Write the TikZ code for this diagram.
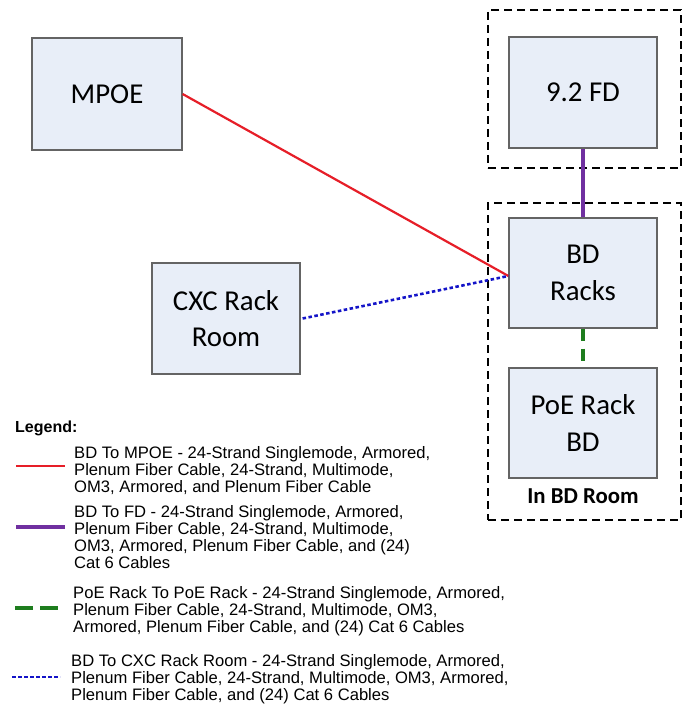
\documentclass[tikz,border=0pt]{standalone}
\usepackage{fontspec}
\setmainfont{Carlito}
\newfontfamily\legfont{Liberation Sans}
\definecolor{boxfill}{RGB}{232,238,248}
\definecolor{boxline}{RGB}{100,100,100}
\definecolor{cred}{RGB}{230,30,40}
\definecolor{cpurple}{RGB}{112,48,160}
\definecolor{cgreen}{RGB}{30,125,30}
\definecolor{cblue}{RGB}{20,20,200}
\tikzset{
  unitbox/.style={draw=boxline, fill=boxfill, line width=1.2pt, minimum width=148pt, minimum height=110pt, inner sep=0pt, align=center, font=\fontsize{28.8}{36.5}\selectfont},
  roombox/.style={draw=black, line width=1.5pt, dash pattern=on 8pt off 5pt, minimum width=193pt, inner sep=0pt},
  legtext/.style={anchor=north west, inner sep=0pt, align=left, font=\legfont\fontsize{16.6}{17}\selectfont},
  redline/.style={draw=cred, line width=2.2pt},
  purpleline/.style={draw=cpurple, line width=3.2pt},
  greenline/.style={draw=cgreen, line width=3.2pt, dash pattern=on 12pt off 8pt},
  blueline/.style={draw=cblue, line width=2.6pt, dash pattern=on 3.5pt off 2.5pt},
}
\begin{document}
\begin{tikzpicture}[x=1pt,y=-1pt]
\useasboundingbox (0,0) rectangle (691,714);
% rooms
\node[roombox, minimum height=158pt] (fdroom) at (584.5,89) {};
\node[roombox, minimum height=317pt] (bdroom) at (584.5,361.5) {};
% boxes
\node[unitbox, minimum width=150pt, minimum height=112pt] (mpoe) at (107,94) {MPOE};
\node[unitbox, minimum height=111pt] (cxc) at (226,318.5) {CXC Rack\\Room};
\node[unitbox, minimum height=111pt] (fd) at (583,92.5) {9.2 FD};
\node[unitbox] (bd) at (583,273) {BD\\Racks};
\node[unitbox] (poe) at (583,423) {PoE Rack\\BD};
\node[anchor=base, inner sep=0pt, font=\bfseries\fontsize{22.8}{26}\selectfont] (roomlabel) at (583,503) {In BD Room};
% connectors
\draw[redline] (mpoe.east) -- ([yshift=-3pt]bd.west);
\draw[blueline] ([xshift=2pt]cxc.east) -- ([yshift=-3pt]bd.west);
\draw[purpleline] (fd.south) -- (bd.north);
\draw[greenline] (bd.south) -- (poe.north);
% legend
\node[anchor=north west, inner sep=0pt, font=\legfont\bfseries\fontsize{16}{17}\selectfont] (leghead) at (15,421) {Legend:};
\coordinate (r1) at (16,466); \coordinate (r2) at (65,466);
\draw[redline] (r1) -- (r2);
\node[legtext] (t1) at (74,446) {BD To MPOE - 24-Strand Singlemode, Armored,\\Plenum Fiber Cable, 24-Strand, Multimode,\\OM3, Armored, and Plenum Fiber Cable};
\coordinate (p1) at (16,527); \coordinate (p2) at (65,527);
\draw[purpleline] (p1) -- (p2);
\node[legtext] (t2) at (74,505) {BD To FD - 24-Strand Singlemode, Armored,\\Plenum Fiber Cable, 24-Strand, Multimode,\\OM3, Armored, Plenum Fiber Cable, and (24)\\Cat 6 Cables};
\coordinate (g1) at (15,608); \coordinate (g2) at (58,608);
\draw[greenline, dash pattern=on 18pt off 7pt] (g1) -- (g2);
\node[legtext] (t3) at (73,586) {PoE Rack To PoE Rack - 24-Strand Singlemode, Armored,\\Plenum Fiber Cable, 24-Strand, Multimode, OM3,\\Armored, Plenum Fiber Cable, and (24) Cat 6 Cables};
\coordinate (b1) at (12,677); \coordinate (b2) at (60,677);
\draw[blueline, line width=2pt] (b1) -- (b2);
\node[legtext] (t4) at (71,654) {BD To CXC Rack Room - 24-Strand Singlemode, Armored,\\Plenum Fiber Cable, 24-Strand, Multimode, OM3, Armored,\\Plenum Fiber Cable, and (24) Cat 6 Cables};
\end{tikzpicture}
\end{document}
